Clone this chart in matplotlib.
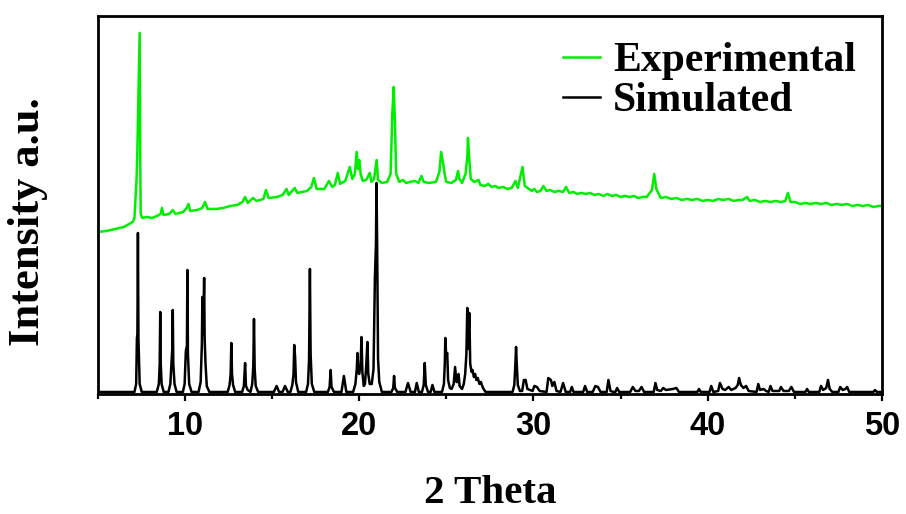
import matplotlib
matplotlib.use("Agg")
import matplotlib.pyplot as plt
from matplotlib.ticker import MultipleLocator

# simulated pattern (2theta, intensity a.u.)
sim_2theta = [
    5.0, 6.9,
    7.10, 7.20, 7.24, 7.27, 7.30, 7.33, 7.40, 7.52,
    8.38, 8.50, 8.55, 8.58, 8.61, 8.66, 8.78,
    9.05, 9.16, 9.22, 9.27, 9.30, 9.33, 9.40, 9.52,
    9.88, 9.98, 10.05, 10.11, 10.14, 10.17, 10.24, 10.38,
    10.78, 10.90, 10.97, 11.00, 11.04, 11.10, 11.13, 11.18, 11.25, 11.40,
    12.45, 12.56, 12.62, 12.66, 12.70, 12.76, 12.88,
    13.28, 13.38, 13.45, 13.50, 13.60,
    13.76, 13.86, 13.92, 13.96, 14.00, 14.06, 14.20,
    15.10, 15.26, 15.40, 15.60, 15.74, 15.90,
    16.05, 16.16, 16.23, 16.27, 16.32, 16.37, 16.50,
    16.95, 17.06, 17.12, 17.17, 17.21, 17.28, 17.42,
    18.20, 18.30, 18.36, 18.41, 18.55,
    18.98, 19.12, 19.26,
    19.65, 19.78, 19.86, 19.90, 19.95, 20.00, 20.08, 20.13, 20.18, 20.26, 20.33, 20.40,
    20.47, 20.52, 20.60, 20.72, 20.82, 20.90, 20.96, 20.99, 21.03, 21.08, 21.15, 21.30,
    21.85, 21.95, 22.00, 22.05, 22.18,
    22.65, 22.80, 22.95, 23.20, 23.30, 23.42,
    23.60, 23.70, 23.76, 23.82, 23.95, 24.10, 24.20, 24.32,
    24.75, 24.86, 24.91, 24.94, 24.99, 25.05, 25.10, 25.20, 25.30,
    25.42, 25.50, 25.58, 25.66, 25.70, 25.76, 25.90, 26.00,
    26.08, 26.15, 26.20, 26.25, 26.32, 26.37, 26.45, 26.50,
    26.58, 26.65, 26.72, 26.80, 26.90, 26.98, 27.10, 27.25,
    28.80, 28.90, 28.96, 29.00, 29.04, 29.10, 29.22,
    29.35, 29.45, 29.55, 29.65, 29.80, 29.95, 30.05, 30.20, 30.35,
    30.75, 30.85, 31.00, 31.08, 31.20, 31.32, 31.55, 31.70, 31.85,
    32.10, 32.20, 32.30, 32.85, 32.96, 33.08, 33.40, 33.55, 33.70, 33.85,
    34.20, 34.30, 34.42, 34.60, 34.70, 34.80, 34.92,
    35.55, 35.70, 35.85, 36.05, 36.20, 36.35,
    36.90, 37.00, 37.10, 37.30, 37.45, 37.60, 38.00, 38.20, 38.35,
    39.40, 39.50, 39.60, 40.10, 40.20, 40.32,
    40.60, 40.70, 40.85, 41.00, 41.20, 41.35, 41.60,
    41.72, 41.80, 41.90, 42.05, 42.20, 42.35,
    42.80, 42.90, 43.00, 43.20, 43.35, 43.50, 43.60, 43.72, 44.00,
    44.10, 44.20, 44.35, 44.65, 44.80, 44.95, 45.60, 45.70, 45.80,
    46.40, 46.50, 46.62, 46.80, 46.90, 47.00, 47.15,
    47.50, 47.60, 47.75, 47.90, 48.00, 48.12, 49.50, 49.60, 49.70, 50.0,
]
sim_counts = [
    2, 2,
    2, 10, 55, 60, 161, 55, 10, 2,
    2, 10, 30, 82, 30, 10, 2,
    2, 10, 30, 45, 84, 30, 10, 2,
    2, 10, 43, 48, 124, 40, 10, 2,
    2, 12, 50, 97, 60, 116, 55, 30, 8, 2,
    2, 9, 20, 51, 20, 9, 2,
    2, 8, 31, 8, 4,
    2, 10, 28, 75, 25, 8, 2,
    2, 8, 2, 2, 8, 2,
    2, 9, 20, 49, 37, 12, 2,
    2, 10, 34, 125, 40, 10, 2,
    2, 7, 24, 7, 2,
    2, 18, 2,
    2, 10, 25, 41, 22, 20, 30, 57, 22, 8, 10, 28,
    52, 20, 10, 10, 25, 117, 150, 211, 147, 35, 12, 2,
    2, 6, 18, 6, 2,
    2, 11, 2, 2, 11, 2,
    2, 9, 31, 9, 2, 2, 9, 2,
    2, 10, 30, 56, 38, 41, 14, 6, 5,
    10, 27, 12, 12, 20, 8, 5, 10,
    20, 40, 86, 45, 81, 30, 22, 24,
    17, 20, 14, 16, 10, 12, 6, 2,
    2, 9, 30, 47, 30, 9, 3,
    3, 14, 14, 5, 4, 3, 8, 7, 3,
    2, 16, 14, 8, 12, 3, 2, 11, 2,
    2, 7, 2, 2, 8, 2, 2, 8, 7, 2,
    2, 14, 3, 2, 2, 6, 2,
    2, 7, 3, 3, 7, 2,
    2, 11, 4, 3, 6, 4, 5, 6, 2,
    2, 5, 2, 2, 8, 2,
    3, 11, 5, 4, 7, 4, 6,
    9, 16, 9, 6, 8, 3,
    2, 10, 4, 5, 3, 2, 8, 3, 3,
    3, 7, 3, 3, 7, 2, 2, 5, 2,
    2, 8, 4, 6, 14, 5, 2,
    2, 7, 4, 5, 7, 2, 2, 4, 2, 2,
]

# measured pattern, offset above the simulated one
exp_2theta = [
    5.0, 5.5, 6.0, 6.5, 6.8, 7.0, 7.1, 7.22, 7.26, 7.33,
    7.40, 7.43, 7.46, 7.55, 7.8, 8.1, 8.4, 8.6, 8.68, 8.76,
    9.1, 9.3, 9.45, 9.9, 10.1, 10.2, 10.3, 10.7, 11.0, 11.15,
    11.3, 11.8, 12.2, 12.6, 13.0, 13.3, 13.45, 13.6, 13.9, 14.1,
    14.5, 14.65, 14.8, 15.3, 15.6, 15.83, 15.95, 16.3, 16.45, 17.0,
    17.25, 17.4, 17.55, 18.0, 18.26, 18.45, 18.6, 18.77, 18.9, 19.2,
    19.46, 19.6, 19.75, 19.85, 19.93, 20.0, 20.08, 20.2, 20.4, 20.6,
    20.7, 20.85, 21.0, 21.08, 21.3, 21.6, 21.8, 21.9, 21.98, 22.05,
    22.12, 22.3, 22.5, 22.7, 22.9, 23.2, 23.4, 23.57, 23.7, 24.0,
    24.4, 24.6, 24.7, 24.8, 24.9, 25.0, 25.3, 25.55, 25.67, 25.75,
    25.9, 26.1, 26.2, 26.24, 26.32, 26.4, 26.6, 26.85, 26.95, 27.2,
    27.4, 27.6, 27.8, 28.0, 28.25, 28.5, 28.75, 28.97, 29.1, 29.37, 29.5,
    29.9, 30.05, 30.2, 30.4, 30.57, 30.75, 30.95, 31.2, 31.45, 31.7,
    31.87, 32.05, 32.3, 32.5, 32.75, 33.0, 33.25, 33.5, 33.75, 34.0,
    34.25, 34.5, 34.75, 35.0, 35.25, 35.5, 35.75, 36.0, 36.25, 36.5,
    36.8, 36.93, 37.05, 37.3, 37.6, 37.9, 38.2, 38.5, 38.8, 39.1,
    39.4, 39.7, 40.0, 40.3, 40.6, 40.9, 41.2, 41.5, 41.8, 42.0,
    42.26, 42.4, 42.7, 43.0, 43.3, 43.6, 43.9, 44.2, 44.45, 44.6,
    44.75, 45.0, 45.3, 45.6, 45.9, 46.2, 46.5, 46.8, 47.1, 47.4,
    47.7, 48.0, 48.3, 48.6, 48.9, 49.2, 49.5, 49.8, 50.0,
]
exp_counts = [
    162, 163, 165, 167, 170, 172, 176, 214, 237, 297,
    361, 240, 180, 176, 177, 176, 178, 180, 186, 179,
    180, 184, 180, 182, 186, 190, 183, 184, 186, 192,
    185, 185, 186, 188, 189, 192, 197, 191, 196, 193,
    195, 204, 196, 197, 199, 205, 199, 206, 201, 203,
    207, 216, 205, 205, 213, 207, 209, 221, 210, 213,
    227, 215, 220, 242, 225, 234, 220, 213, 214, 221,
    212, 215, 234, 214, 211, 212, 220, 281, 307, 270,
    220, 212, 214, 211, 212, 213, 211, 218, 212, 211,
    212, 222, 242, 232, 220, 212, 211, 214, 223, 215,
    211, 220, 236, 256, 234, 215, 212, 214, 209, 208,
    210, 207, 208, 206, 207, 205, 206, 213, 206, 227, 208,
    203, 205, 202, 203, 208, 203, 204, 202, 203, 202,
    207, 201, 202, 200, 201, 200, 201, 199, 200, 198,
    200, 198, 199, 197, 198, 197, 198, 196, 197, 197,
    204, 220, 205, 196, 197, 195, 196, 194, 195, 194,
    195, 193, 194, 193, 195, 194, 195, 193, 194, 194,
    197, 193, 194, 192, 193, 192, 193, 192, 193, 201,
    192, 192, 190, 191, 190, 191, 190, 191, 189, 190,
    189, 190, 188, 189, 188, 189, 187, 188, 188,
]

series_labels = ["Experimental", "Simulated"]
xticks = [10, 20, 30, 40, 50]

serif_bold = {"family": "Liberation Serif", "weight": "bold"}

fig = plt.figure(figsize=(9.06, 5.14), dpi=100)
ax = fig.add_axes([0.108, 0.2335, 0.8655, 0.7355])

ax.plot(exp_2theta, exp_counts, color="#00ee00", lw=1.8, label=series_labels[0])
ax.plot(sim_2theta, sim_counts, color="black", lw=1.8, label=series_labels[1])

ax.set_xlim(5, 50)
ax.set_ylim(0, 378)
ax.set_xticks(xticks)
ax.xaxis.set_minor_locator(MultipleLocator(5))
ax.set_yticks([])

ax.tick_params(axis="x", which="major", direction="out", length=5, width=1.6,
               pad=7, labelsize=23.5)
ax.tick_params(axis="x", which="minor", direction="out", length=3.5, width=1.6)
for lbl in ax.get_xticklabels():
    lbl.set_fontfamily("Liberation Sans")
    lbl.set_fontweight("bold")

for side in ax.spines:
    ax.spines[side].set_linewidth(2)

ax.set_xlabel("2 Theta", fontsize=29.5, labelpad=24, **serif_bold)
ax.set_ylabel("Intensity a.u.", fontsize=32, **serif_bold)
ax.yaxis.set_label_coords(-0.064, 0.456)

ax.legend(loc="upper right", bbox_to_anchor=(0.988, 0.975), frameon=False,
          prop={"family": "Liberation Serif", "weight": "bold", "size": 30},
          handlelength=0.89, handletextpad=0.31, labelspacing=0.05,
          borderaxespad=0.0)

fig.savefig("out.png", dpi=100)
